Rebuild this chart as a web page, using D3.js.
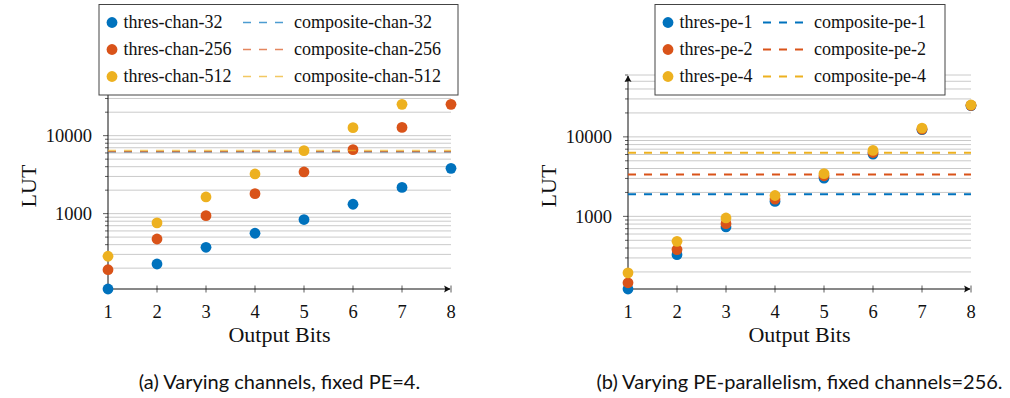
<!DOCTYPE html>
<html><head><meta charset="utf-8">
<script src="https://cdn.jsdelivr.net/npm/d3@7"></script>
<style>
html,body{margin:0;padding:0;background:#fff;}
svg{display:block;}
.serif{font-family:"Liberation Serif","DejaVu Serif",serif;fill:#111;}
.sans{font-family:"Lato","Open Sans",sans-serif;fill:#111;}
</style>
</head><body>
<svg id="c" width="1010" height="398"></svg>
<script>
// ---------- data ----------
const bits = [1, 2, 3, 4, 5, 6, 7, 8];
// (a) varying channels, fixed PE=4
const thresChan32  = [108, 226, 370, 560, 840, 1320, 2170, 3810];
const thresChan256 = [191, 473, 943, 1805, 3425, 6620, 12770, 25200];
const thresChan512 = [284, 760, 1637, 3228, 6430, 12680, 25200, 50000];
const compositeChan = [6200, 6250, 6450]; // chan-32, chan-256, chan-512
const chanLabels = ["32", "256", "512"];
// (b) varying PE parallelism, fixed channels=256
const thresPe1 = [122, 330, 736, 1540, 3030, 6070, 12300, 24700];
const thresPe2 = [146, 382, 810, 1650, 3240, 6350, 12500, 24900];
const thresPe4 = [195, 485, 955, 1830, 3450, 6750, 12900, 25200];
const compositePe = [1900, 3350, 6300]; // pe-1, pe-2, pe-4
const peLabels = ["1", "2", "4"];
const yTickValues = [1000, 10000];
const yMax = 60000;
const colors = ["#0072BD", "#D95319", "#EDB120"];

const svg = d3.select("#c");

function panel(opts) {
  const g = svg.append("g");
  const x = d3.scaleLinear().domain([1, 8]).range([opts.x0, opts.x0 + 343]);
  const allVals = opts.thres.flat();
  const y = d3.scaleLog().domain([d3.min(allVals), yMax]).range([289, 75]);

  // grid lines (major + minor decades)
  const gridVals = [];
  for (let dec = 100; dec <= 100000; dec *= 10)
    for (let m = 1; m <= 9; m++) {
      const v = dec * m;
      if (v >= y.domain()[0] && v <= yMax) gridVals.push(v);
    }
  g.append("g").selectAll("line").data(gridVals).join("line")
    .attr("x1", x(1)).attr("x2", x(8))
    .attr("y1", d => y(d)).attr("y2", d => y(d))
    .attr("stroke", "#c4c4c4").attr("stroke-width", 0.9);

  // y ticks
  g.append("g").selectAll("line").data(gridVals).join("line")
    .attr("x1", d => x(1) - (yTickValues.includes(d) ? 5 : 3)).attr("x2", x(1))
    .attr("y1", d => y(d)).attr("y2", d => y(d))
    .attr("stroke", "#333").attr("stroke-width", 0.8);
  g.append("g").selectAll("text").data(yTickValues).join("text")
    .attr("class", "serif")
    .attr("x", x(1) - 16).attr("y", d => y(d)).attr("dy", "0.34em")
    .attr("text-anchor", "end").attr("font-size", 18.5)
    .text(d => d);

  // x ticks
  g.append("g").selectAll("line").data(bits).join("line")
    .attr("x1", d => x(d)).attr("x2", d => x(d))
    .attr("y1", 285.5).attr("y2", 292.5)
    .attr("stroke", "#333").attr("stroke-width", 0.8);
  g.append("g").selectAll("text").data(bits).join("text")
    .attr("class", "serif")
    .attr("x", d => x(d)).attr("y", 318)
    .attr("text-anchor", "middle").attr("font-size", 18.5)
    .text(d => d);

  // axes lines with arrows
  const x0 = x(1), x8 = x(8), yb = y(y.domain()[0]), yt = y(yMax);
  g.append("line").attr("x1", x0).attr("x2", x8 - 1).attr("y1", yb).attr("y2", yb)
    .attr("stroke", "#111").attr("stroke-width", 1);
  g.append("path")
    .attr("d", `M${x8 - 0.5},${yb} L${x8 - 7},${yb - 3.5} Q${x8 - 5},${yb} ${x8 - 7},${yb + 3.5} Z`)
    .attr("fill", "#111");
  g.append("line").attr("x1", x0).attr("x2", x0).attr("y1", yb).attr("y2", yt + 1)
    .attr("stroke", "#111").attr("stroke-width", 1);
  g.append("path")
    .attr("d", `M${x0},${yt + 0.5} L${x0 - 3.5},${yt + 7} Q${x0},${yt + 5} ${x0 + 3.5},${yt + 7} Z`)
    .attr("fill", "#111");

  // series: interleaved thres / composite (legend order)
  const plot = g.append("g");
  opts.thres.forEach((vals, i) => {
    plot.append("g").selectAll("circle").data(vals).join("circle")
      .attr("cx", (d, j) => x(bits[j])).attr("cy", d => y(d))
      .attr("r", 5.4).attr("fill", colors[i]);
    plot.append("line")
      .attr("x1", x(1)).attr("x2", x(8))
      .attr("y1", y(opts.composite[i])).attr("y2", y(opts.composite[i]))
      .attr("stroke", colors[i]).attr("stroke-width", opts.dashW)
      .attr("stroke-opacity", opts.dashOp)
      .attr("stroke-dasharray", "8,8");
  });

  // axis labels
  g.append("text").attr("class", "serif")
    .attr("transform", `translate(${opts.x0 - 80},186) rotate(-90)`)
    .attr("dy", "0.35em")
    .attr("text-anchor", "middle").attr("font-size", 22).text("LUT");
  g.append("text").attr("class", "serif")
    .attr("x", (x0 + x8) / 2).attr("y", 342)
    .attr("text-anchor", "middle").attr("font-size", 22).text("Output Bits");

  // legend
  const L = opts.legend;
  const lg = g.append("g");
  lg.append("rect").attr("x", L.x).attr("y", 4.5).attr("width", L.w).attr("height", 90.5)
    .attr("fill", "#fff").attr("stroke", "#444").attr("stroke-width", 1);
  const rows = [22.5, 49.5, 76.5];
  opts.names.forEach((nm, i) => {
    lg.append("circle").attr("cx", L.x + 13).attr("cy", rows[i]).attr("r", 5.4).attr("fill", colors[i]);
    lg.append("text").attr("class", "serif").attr("x", L.x + 24.5).attr("y", rows[i]).attr("dy", "0.33em")
      .attr("font-size", 18).text(opts.thresPrefix + nm);
    lg.append("line").attr("x1", L.dx).attr("x2", L.dx + 40)
      .attr("y1", rows[i]).attr("y2", rows[i])
      .attr("stroke", colors[i]).attr("stroke-width", opts.dashW)
      .attr("stroke-opacity", opts.dashOp).attr("stroke-dasharray", "8,8");
    lg.append("text").attr("class", "serif").attr("x", L.dx + 51).attr("y", rows[i]).attr("dy", "0.33em")
      .attr("font-size", 18).text(opts.compPrefix + nm);
  });

  // caption
  g.append("text").attr("class", "sans")
    .attr("x", (x0 + x8) / 2).attr("y", 389)
    .attr("text-anchor", "middle").attr("font-size", 20).text(opts.caption);
}

panel({
  x0: 108,
  thres: [thresChan32, thresChan256, thresChan512],
  composite: compositeChan,
  names: chanLabels, thresPrefix: "thres-chan-", compPrefix: "composite-chan-",
  dashW: 1.3, dashOp: 0.7,
  legend: { x: 99, w: 359, dx: 243 },
  caption: "(a) Varying channels, fixed PE=4."
});
panel({
  x0: 628,
  thres: [thresPe1, thresPe2, thresPe4],
  composite: compositePe,
  names: peLabels, thresPrefix: "thres-pe-", compPrefix: "composite-pe-",
  dashW: 2, dashOp: 1,
  legend: { x: 655, w: 290, dx: 763 },
  caption: "(b) Varying PE-parallelism, fixed channels=256."
});
</script>
</body></html>
